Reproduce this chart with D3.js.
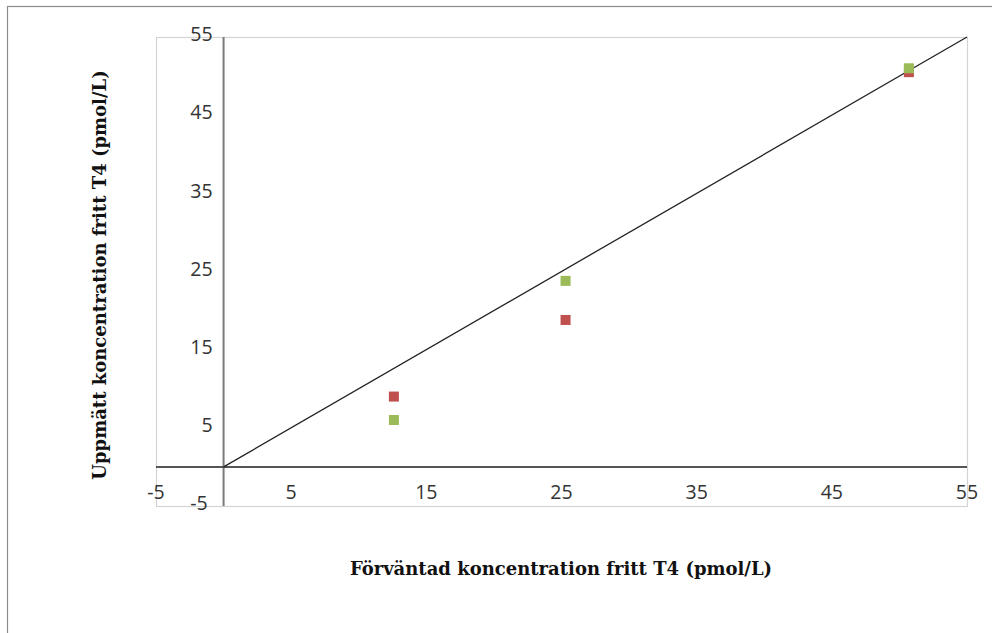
<!DOCTYPE html>
<html>
<head>
<meta charset="utf-8">
<script src="https://cdn.jsdelivr.net/npm/d3@7"></script>
<style>
  body { margin: 0; background: #fff; }
  .tick-label { font-family: "Open Sans", "Noto Sans", sans-serif; font-size: 19.5px; fill: #333; }
  .axis-title { font-family: "DejaVu Serif", serif; font-weight: bold; font-size: 18px; fill: #111; }
</style>
</head>
<body>
<svg id="chart" width="992" height="633"></svg>
<script>
// data
var expected = [12.6, 25.3, 50.7];
var measuredRed = [9.0, 18.8, 50.5];
var measuredGreen = [6.0, 23.8, 51.0];
var tickValues = [-5, 5, 15, 25, 35, 45, 55];
var identityLine = [0, 55];

var svg = d3.select("#chart");
var W = 992, H = 633;
var plot = {left: 156, top: 37, right: 967, bottom: 506};

// outer frame
svg.append("rect").attr("x", 7.5).attr("y", 6.5).attr("width", W).attr("height", H)
  .attr("fill", "none").attr("stroke", "#8c8c8c").attr("stroke-width", 1.2);

var x = d3.scaleLinear().domain([-5, 55]).range([plot.left, plot.right]);
var y = d3.scaleLinear().domain([-5, 55]).range([plot.bottom, plot.top]);

// plot area border
svg.append("rect").attr("x", plot.left + 0.5).attr("y", plot.top + 0.5)
  .attr("width", plot.right - plot.left).attr("height", plot.bottom - plot.top)
  .attr("fill", "none").attr("stroke", "#d4d4d4").attr("stroke-width", 1.2);

// axes crossing at zero
svg.append("line").attr("x1", x(0)).attr("x2", x(0)).attr("y1", plot.top).attr("y2", plot.bottom)
  .attr("stroke", "#7a7a7a").attr("stroke-width", 2);
svg.append("line").attr("x1", plot.left).attr("x2", plot.right).attr("y1", y(0)).attr("y2", y(0))
  .attr("stroke", "#555").attr("stroke-width", 2);

// tick labels
svg.selectAll(".xt").data(tickValues).enter().append("text")
  .attr("class", "tick-label")
  .attr("x", function(d) { return x(d); })
  .attr("y", y(0) + 27)
  .attr("text-anchor", "middle")
  .attr("dominant-baseline", "middle")
  .text(function(d) { return d; });

svg.selectAll(".yt").data(tickValues).enter().append("text")
  .attr("class", "tick-label")
  .attr("x", function(d) { return d < 0 ? x(0) - 16 : x(0) - 11; })
  .attr("y", function(d) { return y(d) - 1; })
  .attr("text-anchor", "end")
  .attr("dominant-baseline", "middle")
  .text(function(d) { return d; });

// identity line
svg.append("line")
  .attr("x1", x(identityLine[0])).attr("y1", y(identityLine[0]))
  .attr("x2", x(identityLine[1])).attr("y2", y(identityLine[1]))
  .attr("stroke", "#222").attr("stroke-width", 1.3);

// markers
var size = 10;
function drawSeries(vals, color) {
  svg.selectAll(null).data(expected).enter().append("rect")
    .attr("x", function(d) { return x(d) - size / 2; })
    .attr("y", function(d, i) { return y(vals[i]) - size / 2; })
    .attr("width", size).attr("height", size)
    .attr("fill", color);
}
drawSeries(measuredRed, "#c0504d");
drawSeries(measuredGreen, "#9bbb59");

// axis titles
svg.append("text").attr("class", "axis-title")
  .attr("x", 561).attr("y", 570)
  .attr("text-anchor", "middle").attr("dominant-baseline", "middle")
  .text("Förväntad koncentration fritt T4 (pmol/L)");

svg.append("text").attr("class", "axis-title")
  .attr("transform", "translate(101,275) rotate(-90)")
  .attr("text-anchor", "middle").attr("dominant-baseline", "middle")
  .text("Uppmätt koncentration fritt T4 (pmol/L)");
</script>
</body>
</html>
